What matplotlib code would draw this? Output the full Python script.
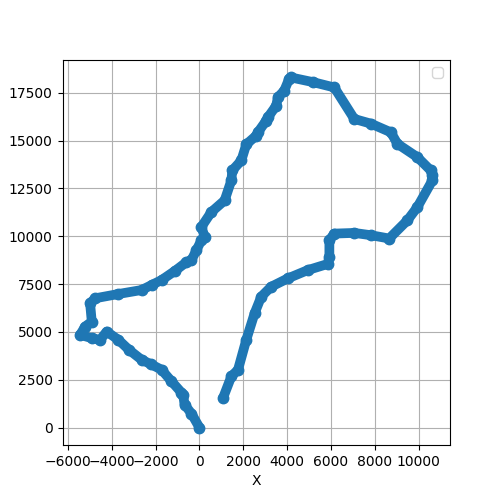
import matplotlib
matplotlib.use("Agg")
import matplotlib.pyplot as plt

# Trajectoire (points de passage)
xs = [0, -364, -680, -741, -818, -1300, -1727, -2200, -2636, -3200, -3695,
      -4227, -4530, -4909, -5440, -5213, -4909, -4985, -4758, -3695, -2636,
      -2182, -1727, -1100, -591, -364, -136, 91, 241, 91, 545, 1150, 1455,
      1500, 1909, 2136, 2591, 2668, 3045, 3123, 3500, 3577, 3864, 4091,
      4182, 5200, 6150, 7060, 7818, 8727, 9030, 9939, 10545, 10621, 10621,
      9939, 9485, 8652, 7818, 7060, 6150, 5924, 5924, 5848, 4941, 4030, 3273, 2818,
      2515, 2136, 1759, 1455, 1077]
ys = [0, 729, 1200, 1719, 1823, 2450, 3021, 3300, 3542, 4050, 4583,
      5016, 4583, 4670, 4844, 5276, 5536, 6494, 6754, 6979, 7188,
      7448, 7708, 8200, 8646, 8750, 9271, 9792, 9963, 10486, 11266, 11875, 12917,
      13437, 13958, 14800, 15260, 15432, 16042, 16215, 16823, 17266, 17604, 18229,
      18297, 18050, 17776, 16130, 15885, 15432, 14826, 14130, 13437, 13177, 12917,
      11526, 10833, 9880, 10052, 10172, 10137, 9792, 8924, 8550, 8229, 7795, 7361, 6840,
      5970, 4583, 3021, 2672, 1547]

fig, ax = plt.subplots(figsize=(5, 5))

ax.plot(xs, ys, "-o", color="#1f77b4", lw=7, ms=7.5,
        solid_capstyle="round", solid_joinstyle="round")

ax.set_xlabel("X")
ax.grid(True)
ax.legend()

plt.savefig("out.png", dpi=100)
